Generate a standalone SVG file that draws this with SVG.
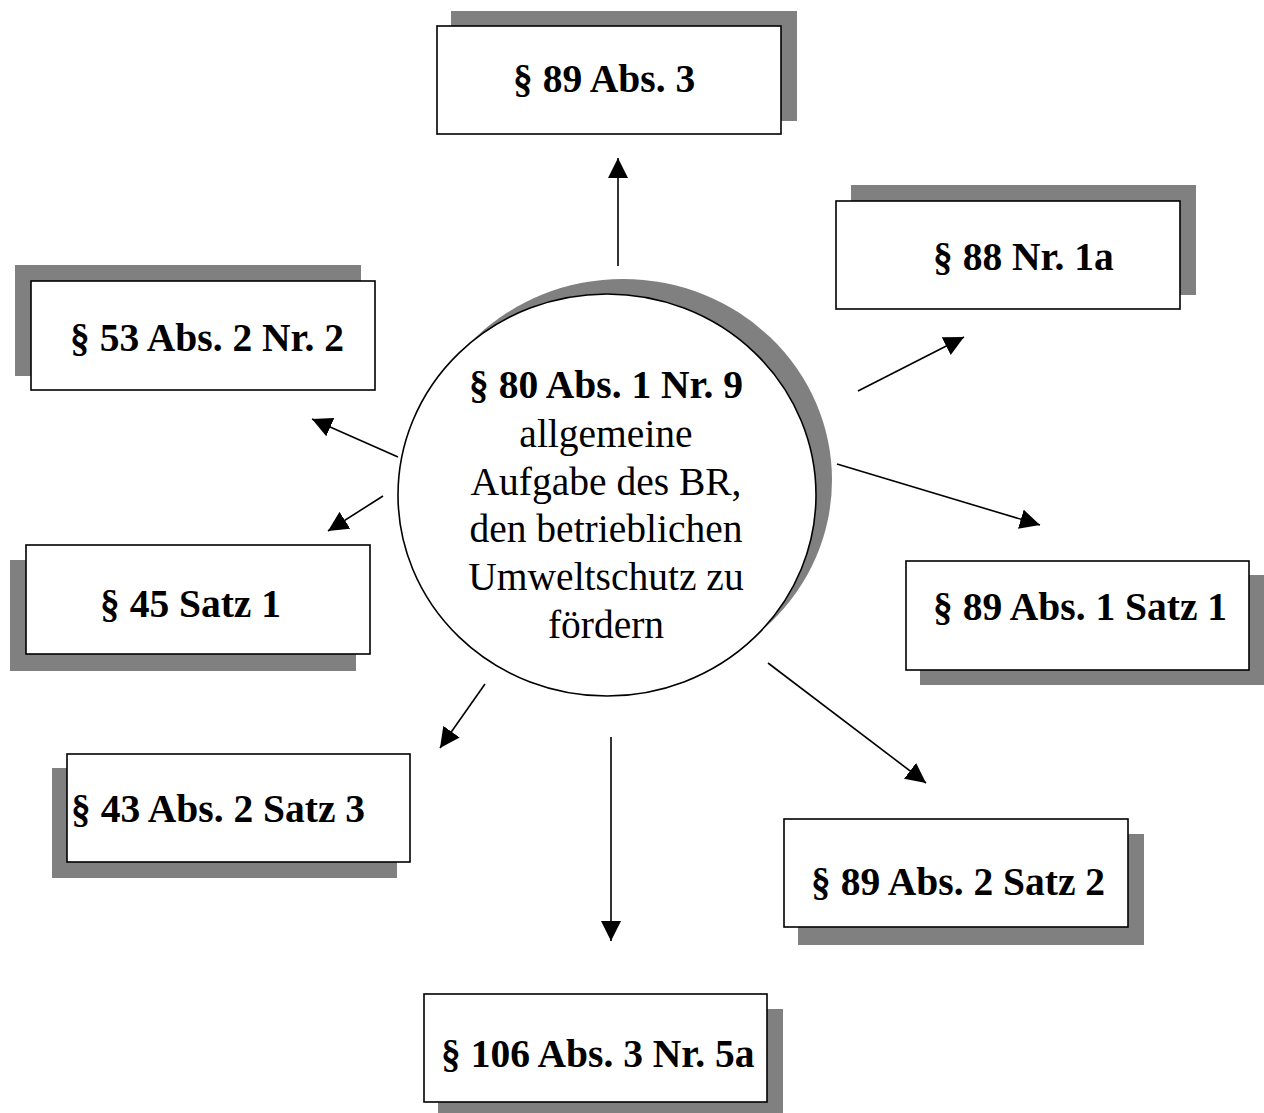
<svg xmlns="http://www.w3.org/2000/svg" width="1264" height="1113" viewBox="0 0 1264 1113">
  <style>
    .shadow { fill: #808080; stroke: none; }
    .box { fill: #ffffff; stroke: #000000; stroke-width: 1.6; }
    .lbl { font-family: "Liberation Serif", "Times New Roman", serif; font-size: 39.5px; font-weight: bold; fill: #000000; }
    .ctr { font-family: "Liberation Serif", "Times New Roman", serif; font-size: 39.5px; fill: #000000; text-anchor: middle; }
    .conn { stroke: #000000; stroke-width: 1.6; fill: none; marker-end: url(#arrow); }
  </style>
  <defs>
    <marker id="arrow" viewBox="0 0 20 20" refX="20" refY="10" markerWidth="20" markerHeight="20" markerUnits="userSpaceOnUse" orient="auto">
      <path d="M0,0 L20,10 L0,20 z" fill="#000000"/>
    </marker>
  </defs>
  <rect width="1264" height="1113" fill="#ffffff"/>

  <g id="connectors">
    <line class="conn" x1="618" y1="266" x2="618" y2="158"/>
    <line class="conn" x1="858" y1="391" x2="964" y2="337"/>
    <line class="conn" x1="837" y1="464" x2="1040" y2="525"/>
    <line class="conn" x1="768" y1="663" x2="926" y2="783"/>
    <line class="conn" x1="611" y1="737" x2="611" y2="941"/>
    <line class="conn" x1="485" y1="684" x2="440" y2="748"/>
    <line class="conn" x1="383" y1="496" x2="328" y2="531"/>
    <line class="conn" x1="398" y1="457" x2="312" y2="419"/>
  </g>

  <g id="center">
    <ellipse class="shadow" cx="623" cy="480" rx="209" ry="201"/>
    <ellipse class="box" cx="607" cy="495" rx="209" ry="201"/>
    <text class="ctr" x="606" y="398" font-weight="bold">§ 80 Abs. 1 Nr. 9</text>
    <text class="ctr" x="606" y="447">allgemeine</text>
    <text class="ctr" x="606" y="495">Aufgabe des BR,</text>
    <text class="ctr" x="606" y="542">den betrieblichen</text>
    <text class="ctr" x="606" y="590">Umweltschutz zu</text>
    <text class="ctr" x="606" y="638">fördern</text>
  </g>

  <g id="n89abs3">
    <rect class="shadow" x="451" y="11" width="346" height="110"/>
    <rect class="box" x="437" y="26" width="344" height="108"/>
    <text class="lbl" x="513" y="92">§ 89 Abs. 3</text>
  </g>

  <g id="n88nr1a">
    <rect class="shadow" x="851" y="185" width="345" height="110"/>
    <rect class="box" x="836" y="201" width="344" height="108"/>
    <text class="lbl" x="933" y="270">§ 88 Nr. 1a</text>
  </g>

  <g id="n89abs1">
    <rect class="shadow" x="920" y="575" width="344" height="110"/>
    <rect class="box" x="906" y="561" width="343" height="109"/>
    <text class="lbl" x="933" y="620">§ 89 Abs. 1 Satz 1</text>
  </g>

  <g id="n89abs2">
    <rect class="shadow" x="798" y="834" width="346" height="111"/>
    <rect class="box" x="784" y="819" width="344" height="108"/>
    <text class="lbl" x="811" y="895">§ 89 Abs. 2 Satz 2</text>
  </g>

  <g id="n106">
    <rect class="shadow" x="438" y="1009" width="345" height="110"/>
    <rect class="box" x="424" y="994" width="343" height="108"/>
    <text class="lbl" x="441" y="1067">§ 106 Abs. 3 Nr. 5a</text>
  </g>

  <g id="n43">
    <rect class="shadow" x="52" y="768" width="345" height="110"/>
    <rect class="box" x="67" y="754" width="343" height="108"/>
    <text class="lbl" x="71" y="822">§ 43 Abs. 2 Satz 3</text>
  </g>

  <g id="n45">
    <rect class="shadow" x="10" y="560" width="346" height="111"/>
    <rect class="box" x="26" y="545" width="344" height="109"/>
    <text class="lbl" x="100" y="617">§ 45 Satz 1</text>
  </g>

  <g id="n53">
    <rect class="shadow" x="15" y="265" width="346" height="111"/>
    <rect class="box" x="31" y="281" width="344" height="109"/>
    <text class="lbl" x="70" y="351">§ 53 Abs. 2 Nr. 2</text>
  </g>
</svg>
